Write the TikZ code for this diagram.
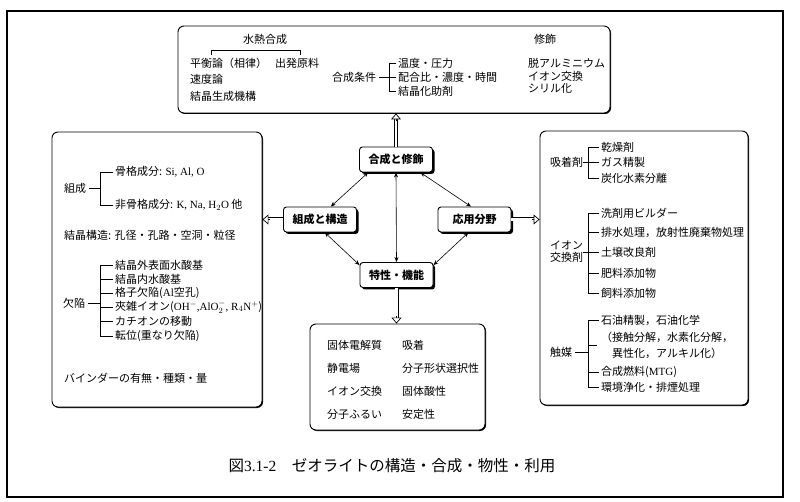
\documentclass[tikz,border=0pt]{standalone}
\usepackage{fontspec}
\setmainfont{Noto Sans CJK JP}
\newfontfamily\lat{Liberation Serif}
\usetikzlibrary{arrows.meta,positioning,shadows,calc}

\begin{document}
\begin{tikzpicture}[x=1pt,y=-1pt,
    font=\fontsize{11}{13}\selectfont,
    bigbox/.style={draw,line width=0.9pt,rounded corners=6pt,fill=white,
      drop shadow={shadow xshift=1pt,shadow yshift=-1pt,opacity=1,fill=black}},
    hub/.style={draw,line width=0.9pt,rounded corners=3pt,fill=white,
      minimum width=73pt,minimum height=25pt,inner sep=0pt,
      font=\fontsize{11}{13}\selectfont\bfseries,
      drop shadow={shadow xshift=2pt,shadow yshift=-2pt,opacity=1,fill=black}},
    txt/.style={anchor=west,inner sep=0pt},
    link/.style={{Stealth[length=5pt,width=4pt]}-{Stealth[length=5pt,width=4pt]},line width=0.6pt},
    feed/.style={double,double distance=2.6pt,line width=0.7pt,shorten >=4pt},
    head/.style={-{Triangle[fill=white,length=6pt,width=10pt]},line width=0.7pt},
    brk/.style={line width=0.8pt}]
  \useasboundingbox (0,0) rectangle (800,502);
  % outer frame
  \draw[line width=1.1pt] (7,11) rectangle (783,497);

  % boxes
  \node[bigbox,minimum width=432pt,minimum height=87pt] (synbox) at (394,69.5) {};
  \node[bigbox,minimum width=210pt,minimum height=275pt] (lbox) at (157,269.5) {};
  \node[bigbox,minimum width=208pt,minimum height=274pt] (rbox) at (644,268) {};
  \node[bigbox,minimum width=175pt,minimum height=106pt] (pbox) at (397.5,377) {};

  % centre
  \node[hub] (synth) at (396,159.5) {合成と修飾};
  \node[hub] (struct) at (320,219.5) {組成と構造};
  \node[hub] (app) at (474.5,219.5) {応用分野};
  \node[hub] (prop) at (396.5,275) {特性・機能};

  \coordinate (fT) at (synth.north |- synbox.south);
  \coordinate (fL) at (struct.west -| lbox.east);
  \coordinate (fR) at (app.east -| rbox.west);
  \coordinate (fB) at (prop.south |- pbox.north);
  \draw[feed] (synth.north) -- (fT);
  \draw[feed] (struct.west) -- (fL);
  \draw[feed] (app.east) -- (fR);
  \draw[feed] (prop.south) -- (fB);
  \draw[head] ([yshift=-8pt]fT) -- (fT);
  \draw[head] ([xshift=8pt]fL) -- (fL);
  \draw[head] ([xshift=-8pt]fR) -- (fR);
  \draw[head] ([yshift=8pt]fB) -- (fB);

  \draw[link] (synth.205) -- (struct.50);
  \draw[link] (synth.-28) -- (app.105);
  \draw[link] (struct.-70) -- (prop.165);
  \draw[link] (app.-115) -- (prop.15);
  \draw[link] (synth.south) -- (prop.north);

  % synthesis box
  \node (hydro) at (265,39) {水熱合成};
  \node[txt] (eq) at (190,63) {平衡論（相律）};
  \node[txt] (raw) at (275,63) {出発原料};
  \node[txt] (kin) at (190,79) {速度論};
  \node[txt] (mech) at (190,96) {結晶生成機構};
  \draw[brk] (211,55) -- (211,50) -- (300,50) -- (300,55);

  \node[txt] (cond) at (332,77) {合成条件};
  \node[txt] (c1) at (398,63) {温度・圧力};
  \node[txt] (c2) at (398,77) {配合比・濃度・時間};
  \node[txt] (c3) at (398,91) {結晶化助剤};
  \draw[brk] ([xshift=-2pt]c1.west) -| ([xshift=-9pt]c3.west) -- ([xshift=-2pt]c3.west);
  \draw[brk] ([xshift=3pt]cond.east) -- ([xshift=-2pt]c2.west);

  \node (mod) at (545,39) {修飾};
  \node[txt] (m1) at (528,63) {脱アルミニウム};
  \node[txt] (m2) at (528,76) {イオン交換};
  \node[txt] (m3) at (528,88) {シリル化};

  % structure box
  \node[txt] (comp) at (64,188) {組成};
  \node[txt] (fw) at (115,172) {骨格成分: {\lat Si, Al, O}};
  \node[txt] (nfw) at (115,205) {非骨格成分: {\lat K, Na, H$_2$O} 他};
  \coordinate (lb) at ([xshift=-15pt]nfw.west);
  \draw[brk] ([xshift=-2pt]fw.west) -| (lb) -- ([xshift=-2pt]nfw.west);
  \draw[brk] ([xshift=3pt]comp.east) -- (lb |- comp.east);

  \node[txt] (cryst) at (64,235) {結晶構造: 孔径・孔路・空洞・粒径};

  \node[txt] (defect) at (63,303) {欠陥};
  \node[txt] (d1) at (115,265) {結晶外表面水酸基};
  \node[txt] (d2) at (115,279) {結晶内水酸基};
  \node[txt] (d3) at (115,293) {格子欠陥({\lat Al}空孔)};
  \node[txt] (d4) at (115,307) {夾雑イオン({\lat OH$^-$,AlO$_2^-$, R$_4$N$^+$})};
  \node[txt] (d5) at (115,321) {カチオンの移動};
  \node[txt] (d6) at (115,336) {転位(重なり欠陥)};
  \coordinate (db) at ([xshift=-15pt]d6.west);
  \draw[brk] ([xshift=-2pt]d1.west) -| (db) -- ([xshift=-2pt]d6.west);
  \foreach \n in {d2,d3,d4,d5} \draw[brk] ([xshift=-2pt]\n.west) -- ++(-13,0);
  \draw[brk] ([xshift=3pt]defect.east) -- (db |- defect.east);

  \node[txt] (binder) at (64,378) {バインダーの有無・種類・量};

  % application box
  \node[txt] (ads) at (550,162) {吸着剤};
  \node[txt] (a1) at (601,147) {乾燥剤};
  \node[txt] (a2) at (601,162) {ガス精製};
  \node[txt] (a3) at (601,178) {炭化水素分離};
  \draw[brk] ([xshift=-2pt]a1.west) -| ([xshift=-13pt]a3.west) -- ([xshift=-2pt]a3.west);
  \draw[brk] (ads.east) -- ([xshift=-2pt]a2.west);

  \node[txt,align=left,font=\fontsize{11}{12}\selectfont] (ionx) at (550,252) {イオン\\交換剤};
  \node[txt] (i1) at (601,213) {洗剤用ビルダー};
  \node[txt] (i2) at (601,232) {排水処理，放射性廃棄物処理};
  \node[txt] (i3) at (601,252) {土壌改良剤};
  \node[txt] (i4) at (601,273) {肥料添加物};
  \node[txt] (i5) at (601,293) {飼料添加物};
  \draw[brk] ([xshift=-2pt]i1.west) -| ([xshift=-13pt]i5.west) -- ([xshift=-2pt]i5.west);
  \foreach \n in {i2,i4} \draw[brk] ([xshift=-2pt]\n.west) -- ++(-11,0);
  \draw[brk] (ionx.east) -- ([xshift=-2pt]i3.west);

  \node[txt] (cat) at (550,352) {触媒};
  \node[txt] (k1) at (601,320) {石油精製，石油化学};
  \node[txt] (k2) at (601,337) {（接触分解，水素化分解，};
  \node[txt] (k3) at (612,353) {異性化，アルキル化）};
  \node[txt] (k4) at (601,372) {合成燃料({\lat MTG})};
  \node[txt] (k5) at (601,387) {環境浄化・排煙処理};
  \coordinate (kb) at ([xshift=-13pt]k5.west);
  \draw[brk] ([xshift=-2pt]k1.west) -| (kb) -- ([xshift=-2pt]k5.west);
  \draw[brk] ([xshift=-2pt]k4.west) -- ++(-11,0);
  \draw[brk] (kb |- 0,345) -- ++(9,0);
  \draw[brk] ([xshift=3pt]cat.east) -- (kb |- cat.east);

  % property box
  \node[txt] (p1) at (327,345) {固体電解質};
  \node[txt] (p2) at (327,368) {静電場};
  \node[txt] (p3) at (327,391) {イオン交換};
  \node[txt] (p4) at (327,414) {分子ふるい};
  \node[txt] (q1) at (402,345) {吸着};
  \node[txt] (q2) at (402,368) {分子形状選択性};
  \node[txt] (q3) at (402,391) {固体酸性};
  \node[txt] (q4) at (402,414) {安定性};

  \node[font=\fontsize{15.5}{17}\selectfont] (cap) at (392,466) {図{\lat 3.1-2}\quad ゼオライトの構造・合成・物性・利用};
\end{tikzpicture}
\end{document}
